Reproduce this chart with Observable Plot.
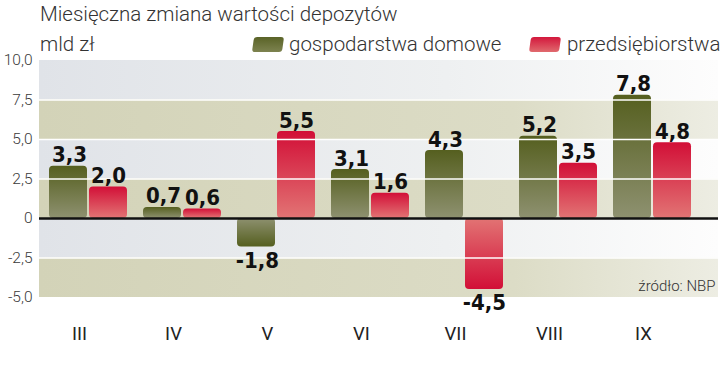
<!DOCTYPE html>
<html>
<head>
<meta charset="utf-8">
<script src="https://cdn.jsdelivr.net/npm/d3@7"></script>
<script src="https://cdn.jsdelivr.net/npm/@observablehq/plot@0.6"></script>
<style>
  html, body { margin: 0; padding: 0; background: #fff; }
  #wrap { position: relative; width: 720px; height: 368px; overflow: hidden; font-family: Roboto, "Noto Sans", sans-serif; color: #333; }
  #header { position: relative; height: 52px; }
  .t { position: absolute; white-space: nowrap; font-weight: 300; font-size: 20.5px; line-height: 1; }
  .sw { position: absolute; width: 30px; height: 15px; border-radius: 3px; transform: skewX(-8deg); }
  #chart svg { display: block; }
</style>
</head>
<body>
<div id="wrap">
  <div id="header">
    <div class="t" style="left:40px; top:4px;">Miesięczna zmiana wartości depozytów</div>
    <div class="t" style="left:40px; top:34px;">mld zł</div>
    <div class="sw" style="left:253px; top:37px; background: linear-gradient(#5a6327, #7d8350);"></div>
    <div class="t" style="left:289px; top:34px;">gospodarstwa domowe</div>
    <div class="sw" style="left:530px; top:37px; background: linear-gradient(#d3173c, #e06a6e);"></div>
    <div class="t" style="left:567px; top:34px;">przedsiębiorstwa</div>
  </div>
  <div id="chart"></div>
</div>
<script>
const months = ["III", "IV", "V", "VI", "VII", "VIII", "IX"];
const households = [3.3, 0.7, -1.8, 3.1, 4.3, 5.2, 7.8];
const companies = [2.0, 0.6, 5.5, 1.6, -4.5, 3.5, 4.8];
const yTicks = [10, 7.5, 5, 2.5, 0, -2.5, -5];
const bandEdges = [10, 7.5, 5, 2.5, 0, -2.5, -5];
const source = "źródło: NBP";

const rows = months.map((m, i) => ({month: m, h: households[i], c: companies[i]}));
const bands = bandEdges.slice(0, -1).map((a, i) => ({y1: a, y2: bandEdges[i + 1], kind: i % 2 === 0 ? "gray" : "beige"}));
const fmt = v => v === 0 ? "0" : v.toFixed(1).replace(".", ",");

const labelFont = {fontFamily: "'DejaVu Sans Condensed', 'DejaVu Sans', sans-serif", fontWeight: "bold", fontSize: 22, fill: "#111"};

const plot = Plot.plot({
  width: 720,
  height: 316,
  marginTop: 8,
  marginBottom: 71,
  marginLeft: 39,
  marginRight: 2,
  x: {type: "band", domain: months, range: [39, 700], padding: 0, label: null},
  y: {domain: [-5, 10], range: [245, 8], label: null},
  marks: [
    Plot.barY(bands.filter(d => d.kind === "gray"), {y1: "y1", y2: "y2", fill: "url(#bgGray)"}),
    Plot.barY(bands.filter(d => d.kind === "beige"), {y1: "y1", y2: "y2", fill: "url(#bgBeige)"}),
    Plot.barY(rows.filter(d => d.h >= 0), {x: "month", y: "h", insetLeft: 8, insetRight: 48, fill: "url(#gPos)", rx: 4}),
    Plot.barY(rows.filter(d => d.h < 0), {x: "month", y: "h", insetLeft: 8, insetRight: 48, fill: "url(#gNeg)", rx: 4}),
    Plot.barY(rows.filter(d => d.c >= 0), {x: "month", y: "c", insetLeft: 48, insetRight: 8, fill: "url(#rPos)", rx: 4}),
    Plot.barY(rows.filter(d => d.c < 0), {x: "month", y: "c", insetLeft: 48, insetRight: 8, fill: "url(#rNeg)", rx: 4}),
    Plot.ruleY(yTicks.filter(v => v !== 0 && v !== 10 && v !== -5), {stroke: "#fff", strokeWidth: 1.6}),
    Plot.ruleY([0], {stroke: "#111", strokeWidth: 2.5}),
    Plot.text(rows.filter(d => d.h >= 0), {x: "month", y: "h", text: d => fmt(d.h), dx: -19, dy: -4, lineAnchor: "bottom", ...labelFont}),
    Plot.text(rows.filter(d => d.h < 0), {x: "month", y: "h", text: d => fmt(d.h), dx: -19, dy: 5, lineAnchor: "top", ...labelFont}),
    Plot.text(rows.filter(d => d.c >= 0), {x: "month", y: "c", text: d => fmt(d.c), dx: 20, dy: -4, lineAnchor: "bottom", ...labelFont}),
    Plot.text(rows.filter(d => d.c < 0), {x: "month", y: "c", text: d => fmt(d.c), dx: 20, dy: 5, lineAnchor: "top", ...labelFont}),
    Plot.axisY(yTicks, {tickSize: 0, tickPadding: 7, tickFormat: fmt, fontSize: 15.5, fill: "#3a3a3a", fontFamily: "Roboto, sans-serif", fontWeight: 300, label: null}),
    Plot.axisX({tickSize: 0, tickPadding: 29, dx: -9, fontSize: 18.5, fill: "#222", fontFamily: "Roboto, sans-serif", fontWeight: 400, label: null}),
    Plot.text([source], {frameAnchor: "bottom-right", dx: -3, dy: -7, text: d => d, fontSize: 15, fill: "#333", fontFamily: "Roboto, sans-serif", fontWeight: 300})
  ]
});

const defs = `
<linearGradient id="bgGray" x1="0" y1="0" x2="1" y2="0">
  <stop offset="0" stop-color="#e0e3e8"/><stop offset="0.6" stop-color="#eef0f1"/><stop offset="1" stop-color="#fdfdfd"/>
</linearGradient>
<linearGradient id="bgBeige" x1="0" y1="0" x2="1" y2="0">
  <stop offset="0" stop-color="#d3d3b8"/><stop offset="0.7" stop-color="#dcdcc6"/><stop offset="1" stop-color="#ededE3"/>
</linearGradient>
<linearGradient id="gPos" x1="0" y1="0" x2="0" y2="1">
  <stop offset="0" stop-color="#555f1f"/><stop offset="1" stop-color="#8e9170"/>
</linearGradient>
<linearGradient id="gNeg" x1="0" y1="1" x2="0" y2="0">
  <stop offset="0" stop-color="#555f1f"/><stop offset="1" stop-color="#8e9170"/>
</linearGradient>
<linearGradient id="rPos" x1="0" y1="0" x2="0" y2="1">
  <stop offset="0" stop-color="#d20f37"/><stop offset="1" stop-color="#e27474"/>
</linearGradient>
<linearGradient id="rNeg" x1="0" y1="1" x2="0" y2="0">
  <stop offset="0" stop-color="#d20f37"/><stop offset="1" stop-color="#e27474"/>
</linearGradient>`;
const d = document.createElementNS("http://www.w3.org/2000/svg", "defs");
d.innerHTML = defs;
plot.insertBefore(d, plot.firstChild);
document.getElementById("chart").appendChild(plot);
</script>
</body>
</html>
